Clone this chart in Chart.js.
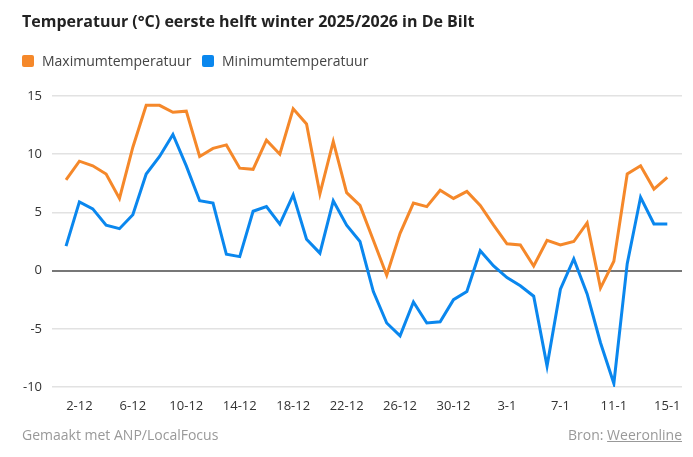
<!DOCTYPE html>
<html>
<head>
<meta charset="utf-8">
<script src="https://cdn.jsdelivr.net/npm/chart.js@4"></script>
<style>
  body { margin: 0; background: #fff; font-family: "Open Sans", sans-serif; }
  #wrap { position: relative; width: 693px; height: 457px; }
  #chart { position: absolute; left: 0; top: 0; }
  .title { position: absolute; left: 22px; top: 10px; font-size: 16px; font-weight: 700; color: #222; }
  .legend { position: absolute; left: 22px; top: 51px; font-size: 14px; color: #444; }
  .legend span.box { display: inline-block; width: 12px; height: 12px; border-radius: 2px; vertical-align: -1px; margin-right: 8px; }
  .legend span.item { margin-right: 7px; }
  .foot { position: absolute; top: 425px; font-size: 14px; line-height: 19px; color: #999; }
  .foot a { color: #999; text-decoration: underline; }
</style>
</head>
<body>
<div id="wrap">
  <canvas id="chart" width="693" height="457"></canvas>
  <div class="title">Temperatuur (°C) eerste helft winter 2025/2026 in De Bilt</div>
  <div class="legend">
    <span class="item"><span class="box" style="background:#F5882A"></span>Maximumtemperatuur</span>
    <span class="item"><span class="box" style="background:#0A87EE"></span>Minimumtemperatuur</span>
  </div>
  <div class="foot" style="left:22px">Gemaakt met ANP/LocalFocus</div>
  <div class="foot" style="right:11px">Bron: <a>Weeronline</a></div>
</div>
<script>
// dagen 1-12 t/m 15-1
const days = [];
for (let d = 1; d <= 31; d++) days.push(d + "-12");
for (let d = 1; d <= 15; d++) days.push(d + "-1");

const maxTemp = [7.8, 9.4, 9.0, 8.3, 6.2, 10.6, 14.2, 14.2, 13.6, 13.7, 9.8, 10.5, 10.8, 8.8, 8.7, 11.2,
  10.0, 13.9, 12.6, 6.6, 11.1, 6.7, 5.6, 2.6, -0.4, 3.2, 5.8, 5.5, 6.9, 6.2, 6.8,
  5.6, 3.9, 2.3, 2.2, 0.4, 2.6, 2.2, 2.5, 4.1, -1.5, 0.8, 8.3, 9.0, 7.0, 8.0];
const minTemp = [2.1, 5.9, 5.3, 3.9, 3.6, 4.8, 8.3, 9.8, 11.7, 9.0, 6.0, 5.8, 1.4, 1.2, 5.1, 5.5,
  4.0, 6.5, 2.7, 1.5, 6.0, 3.9, 2.5, -1.8, -4.5, -5.6, -2.7, -4.5, -4.4, -2.5, -1.8,
  1.7, 0.4, -0.6, -1.3, -2.2, -8.2, -1.6, 1.0, -2.0, -6.2, -9.7, 0.6, 6.3, 4.0, 4.0];
const yTicks = [-10, -5, 0, 5, 10, 15];

function toPoints(arr) {
  return arr.map((v, i) => ({ x: i, y: v }));
}

new Chart(document.getElementById("chart"), {
  type: "line",
  data: {
    datasets: [
      { label: "Maximumtemperatuur", data: toPoints(maxTemp), borderColor: "#F5882A", borderWidth: 3, pointRadius: 0, tension: 0 },
      { label: "Minimumtemperatuur", data: toPoints(minTemp), borderColor: "#0A87EE", borderWidth: 3, pointRadius: 0, tension: 0 }
    ]
  },
  options: {
    responsive: false,
    animation: false,
    layout: { padding: { top: 96, right: 11, bottom: 40, left: 0 } },
    plugins: { legend: { display: false }, tooltip: { enabled: false } },
    scales: {
      x: {
        type: "linear",
        min: -1.05,
        max: 46.1,
        afterBuildTicks: function (scale) {
          const t = [];
          for (let i = 1; i < days.length; i += 4) t.push({ value: i });
          scale.ticks = t;
        },
        afterFit: function (scale) { scale.height = 30; },
        grid: { display: false },
        border: { display: false },
        ticks: {
          padding: 3,
          maxRotation: 0,
          autoSkip: false,
          color: "#333",
          font: { family: "Open Sans", size: 13 },
          callback: function (v) { return days[v]; }
        }
      },
      y: {
        min: -10,
        max: 15,
        afterBuildTicks: function (scale) { scale.ticks = yTicks.map(v => ({ value: v })); },
        afterFit: function (scale) { scale.width = 52; },
        border: { display: false },
        grid: {
          drawTicks: false,
          lineWidth: function (ctx) { return ctx.tick && ctx.tick.value === 0 ? 2 : 1.5; },
          color: function (ctx) { return ctx.tick && ctx.tick.value === 0 ? "#777" : "#e2e2e2"; }
        },
        ticks: {
          padding: 10,
          color: "#333",
          font: { family: "Open Sans", size: 13 }
        }
      }
    }
  }
});
</script>
</body>
</html>
